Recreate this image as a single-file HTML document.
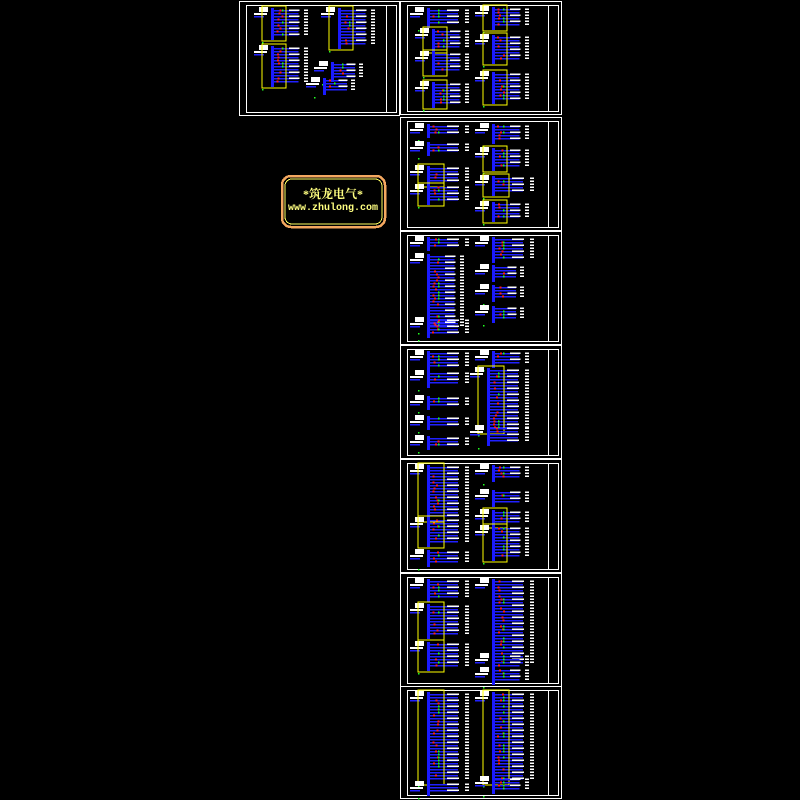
<!DOCTYPE html>
<html><head><meta charset="utf-8"><style>
html,body{margin:0;padding:0;background:#000;width:800px;height:800px;overflow:hidden}
svg{display:block}
</style></head><body>
<svg id="s" width="800" height="800" viewBox="0 0 800 800" xmlns="http://www.w3.org/2000/svg" shape-rendering="crispEdges">
<rect width="800" height="800" fill="#000"/>
<g id="g"></g>
<rect x="282" y="176" width="103" height="51" rx="9" fill="none" stroke="#f4a860" stroke-width="2.5"/>
<rect x="285" y="179" width="97" height="45" rx="7" fill="none" stroke="#ffff60" stroke-width="1"/>
<text x="333" y="198" text-anchor="middle" font-family="'Liberation Serif','Noto Serif CJK SC',serif" font-size="12" font-weight="bold" fill="#ffff80">*筑龙电气*</text>
<text x="333" y="210" text-anchor="middle" font-family="'Liberation Mono',monospace" font-size="10" font-weight="bold" fill="#ffff80">www.zhulong.com</text>
</svg>
<script>
(function(){
var g=document.getElementById('g'),h='';
var seed=7;function r(){seed=(seed*9301+49297)%233280;return seed/233280;}
function R(x,y,w,hh,c){h+='<rect x="'+x.toFixed(1)+'" y="'+y.toFixed(1)+'" width="'+w.toFixed(1)+'" height="'+hh.toFixed(1)+'" fill="'+c+'"/>';}
function S(x,y,w,hh,c,sw){h+='<rect x="'+x+'" y="'+y+'" width="'+w+'" height="'+hh+'" fill="none" stroke="'+c+'" stroke-width="'+(sw||1)+'"/>';}
function block(x,y,n,wid,yel){
  var H=n*3+5;
  R(x,y,9,5,'#fff');R(x-5,y+6,13,2,'#fff');R(x-5,y+9,10,1.5,'#2020ff');
  R(x+12,y+1,3,H,'#1a1aff');
  for(var i=0;i<n;i++){
    var yy=y+3+i*3;
    R(x+15,yy,wid*0.7,1.5,'#2020ff');
    if(i%2==0)R(x+wid*0.45+14,yy-0.5,wid*0.3,1.5,'#fff');
    if(r()<0.5)R(x+17+r()*6,yy-0.5,2,2,'#ff2020');
    if(r()<0.3)R(x+23,yy-0.5,1.5,2,'#20ff20');
    R(x+wid+10,yy-0.5,4,1.5,'#fff');
  }
  if(yel)S(x+3,y-1,wid*0.45+8,H+3,'#ffff00',1);
  R(x+3,y+H+3,1.5,1.5,'#20ff20');
}
function sheet(x,y,w,hh,blocks){
  S(x+0.5,y+0.5,w,hh,'#fff',1);
  S(x+7.5,y+4.5,w-10,hh-7,'#fff',1);
  h+='<line x1="'+(x+w-12.5)+'" y1="'+(y+4)+'" x2="'+(x+w-12.5)+'" y2="'+(y+hh-3)+'" stroke="#fff" stroke-width="1"/>';
  blocks.forEach(function(b){block(x+b[0],y+b[1],b[2],b[3],b[4]);});
}
sheet(239,1,160,114,[[20,6,9,35,1],[20,44,12,35,1],[87,6,12,35,1],[80,60,5,30,0],[72,76,4,30,0]]);
var col=[
 [[15,6,5,40,0],[80,5,6,35,1],[20,27,6,35,1],[80,33,8,35,1],[20,50,6,35,1],[80,70,9,35,1],[20,80,7,35,1]],
 [[15,6,3,40,0],[80,6,5,35,0],[15,24,3,40,0],[80,30,6,35,1],[15,48,5,40,1],[80,58,5,40,1],[15,67,5,40,1],[80,84,5,35,1]],
 [[15,5,3,40,0],[15,22,24,35,0],[80,5,7,40,0],[80,33,4,30,0],[80,53,4,30,0],[80,74,4,30,0],[15,86,5,40,0]],
 [[15,5,5,40,0],[80,5,4,35,0],[15,25,4,40,0],[75,22,20,40,1],[15,50,3,40,0],[15,70,3,40,0],[15,90,3,40,0],[75,80,5,40,0]],
 [[15,5,17,40,1],[80,5,4,35,0],[15,58,8,40,1],[80,30,4,35,0],[80,50,4,35,1],[80,66,10,35,1],[15,90,4,40,0]],
 [[15,5,6,40,0],[80,5,28,40,0],[15,30,10,40,1],[15,68,8,40,1],[80,80,4,35,0],[80,94,4,35,0]],
 [[15,5,29,40,1],[80,5,29,40,1],[15,95,3,40,0],[80,90,4,35,0]]
];
var ys=[1,117,231,345,459,573,686];
for(var i=0;i<7;i++)sheet(400,ys[i],161,i==6?112:113,col[i]);
g.innerHTML=h;
})();
</script>
</body></html>
